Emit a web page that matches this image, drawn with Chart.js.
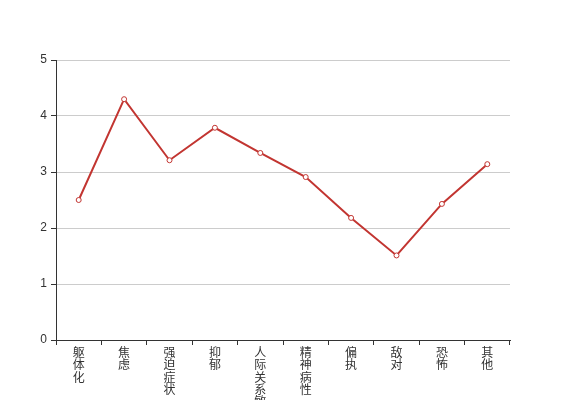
<!DOCTYPE html>
<html>
<head>
<meta charset="utf-8">
<script src="https://cdn.jsdelivr.net/npm/chart.js@4/dist/chart.umd.min.js"></script>
<style>
  body { margin: 0; background: #fff; }
  canvas { display: block; }
</style>
</head>
<body>
<canvas id="chart" width="567" height="400"></canvas>
<script>
const CATEGORIES = ['躯体化', '焦虑', '强迫症状', '抑郁', '人际关系敏感', '精神病性', '偏执', '敌对', '恐怖', '其他'];
const SCORES = [2.5, 4.3, 3.21, 3.79, 3.34, 2.91, 2.18, 1.51, 2.43, 3.14];
const Y_MIN = 0;
const Y_MAX = 5;

const FONT = '"Liberation Sans", "Noto Sans CJK SC", sans-serif';
const AXIS_COLOR = '#333';

// vertical labels: one character per line
const verticalLabels = CATEGORIES.map(c => c.split(''));

new Chart(document.getElementById('chart'), {
    type: 'line',
    data: {
        labels: verticalLabels,
        datasets: [{
            data: SCORES,
            borderColor: '#c23531',
            borderWidth: 2,
            backgroundColor: '#fff',
            pointBackgroundColor: '#fff',
            pointBorderColor: '#c23531',
            pointBorderWidth: 1,
            pointRadius: 2.5,
            tension: 0
        }]
    },
    options: {
        responsive: false,
        animation: false,
        layout: { padding: { top: 60, right: 57, left: 0, bottom: 0 } },
        plugins: {
            legend: { display: false },
            tooltip: { enabled: false }
        },
        scales: {
            x: {
                offset: true,
                afterFit: s => { s.height = 60; },
                grid: { offset: true, drawOnChartArea: false, drawTicks: true, tickLength: 5, tickColor: AXIS_COLOR },
                border: { color: AXIS_COLOR, width: 1 },
                ticks: {
                    autoSkip: false,
                    maxRotation: 0,
                    minRotation: 0,
                    padding: 2,
                    color: '#333',
                    font: { family: FONT, size: 12, lineHeight: 1.04 }
                }
            },
            y: {
                min: Y_MIN,
                max: Y_MAX,
                afterFit: s => { s.width = 56; },
                grid: { color: '#ccc', tickLength: 5, tickColor: AXIS_COLOR },
                border: { color: AXIS_COLOR, width: 1 },
                ticks: {
                    stepSize: 1,
                    padding: 4,
                    color: '#333',
                    font: { family: FONT, size: 12 }
                }
            }
        }
    }
});
</script>
</body>
</html>
